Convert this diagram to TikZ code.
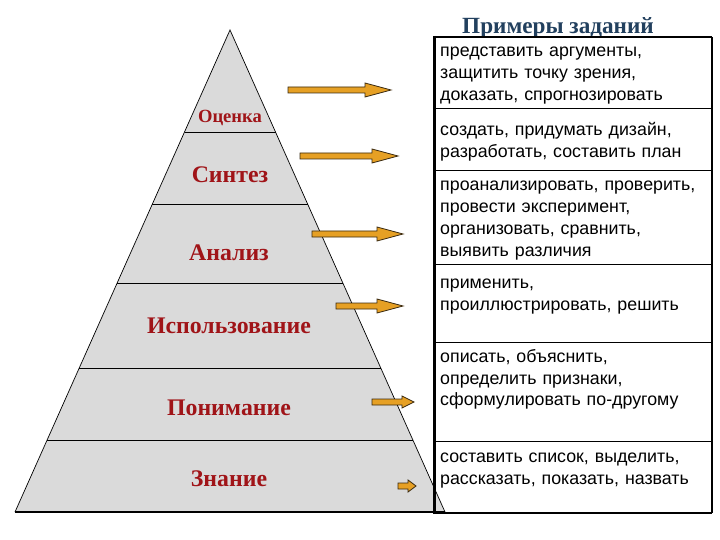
\documentclass[tikz,border=0pt]{standalone}
\usepackage{fontspec}
\setmainfont{Liberation Serif}
\newfontfamily\arialf{Liberation Sans}
\definecolor{pyrgray}{HTML}{DADADA}
\definecolor{lblred}{HTML}{A01418}
\definecolor{titleblue}{HTML}{22405E}
\definecolor{arrfill}{HTML}{E6A024}
\definecolor{arredge}{HTML}{3A2A10}
\newcommand{\blockarr}[5]{%
  \draw[arrstyle] (#1,#3-3) -- (#2-#4,#3-3) -- (#2-#4,#3-#5) -- (#2,#3) -- (#2-#4,#3+#5) -- (#2-#4,#3+3) -- (#1,#3+3) -- cycle;}
\begin{document}
\begin{tikzpicture}[x=1pt,y=-1pt,
  lvl/.style={font=\bfseries\fontsize{23.8}{26}\selectfont, text=lblred, inner sep=0pt},
  cell/.style={font=\arialf\fontsize{17.8}{21.8}\selectfont, anchor=north west, text width=275pt, align=left, inner sep=0pt},
  divline/.style={line width=0.7pt},
  arrstyle/.style={fill=arrfill, draw=arredge, line width=0.8pt, line join=miter}]
\useasboundingbox (0,0) rectangle (720,540);
% pyramid
\coordinate (apex) at (230,30);
\coordinate (bl) at (15,512);
\coordinate (br) at (445,512);
\fill[pyrgray] (apex) -- (br) -- (bl) -- cycle;
\draw[line width=0.7pt] (bl) -- (apex) -- (br);
\draw[line width=1.2pt] (bl) -- (br);
\foreach \yy/\dx in {132/45.5,204/77.6,283/112.9,368/150.8,440/182.9}
  \draw[divline] (230-\dx,\yy) -- (230+\dx,\yy);
% labels
\node[lvl, font=\bfseries\fontsize{18.6}{20}\selectfont] (l1) at (230,118) {Оценка};
\node[lvl] (l2) at (230,175) {Синтез};
\node[lvl] (l3) at (229,253) {Анализ};
\node[lvl] (l4) at (229,326) {Использование};
\node[lvl] (l5) at (229,408) {Понимание};
\node[lvl] (l6) at (229,479) {Знание};
% arrows
\blockarr{288}{391}{90}{26}{7}
\blockarr{300}{398}{156}{26}{7}
\blockarr{312}{403}{234}{26}{7}
\blockarr{336}{403}{306}{26}{7}
\blockarr{372}{414}{402}{12}{6}
\blockarr{398}{416}{486}{8}{6}
% title
\node[font=\bfseries\fontsize{23.2}{25}\selectfont, text=titleblue, inner sep=0pt, anchor=base] (title) at (558,34) {Примеры заданий};
% table
\draw[line width=0.8pt] (434,108) -- (712,108);
\draw[line width=0.8pt] (434,170) -- (712,170);
\draw[line width=0.8pt] (434,264) -- (712,264);
\draw[line width=0.8pt] (434,342) -- (712,342);
\draw[line width=0.8pt] (434,441) -- (712,441);
\draw[line width=2pt] (434,37) -- (712,37);
\draw[line width=2pt] (434,513) -- (712,513);
\draw[line width=2.2pt] (712,37) -- (712,513);
\draw[line width=3pt] (434,36) -- (434,514);
\node[cell] (c1) at (440,47) {представить аргументы,\\защитить точку зрения,\\доказать, спрогнозировать};
\node[cell] (c2) at (440,122) {создать, придумать дизайн,\\разработать, составить план};
\node[cell] (c3) at (440,181) {проанализировать, проверить,\\провести эксперимент,\\организовать, сравнить,\\выявить различия};
\node[cell] (c4) at (440,279) {применить,\\проиллюстрировать, решить};
\node[cell] (c5) at (440,349) {описать, объяснить,\\определить признаки,\\сформулировать по-другому};
\node[cell] (c6) at (440,453) {составить список, выделить,\\рассказать, показать, назвать};
\end{tikzpicture}
\end{document}
